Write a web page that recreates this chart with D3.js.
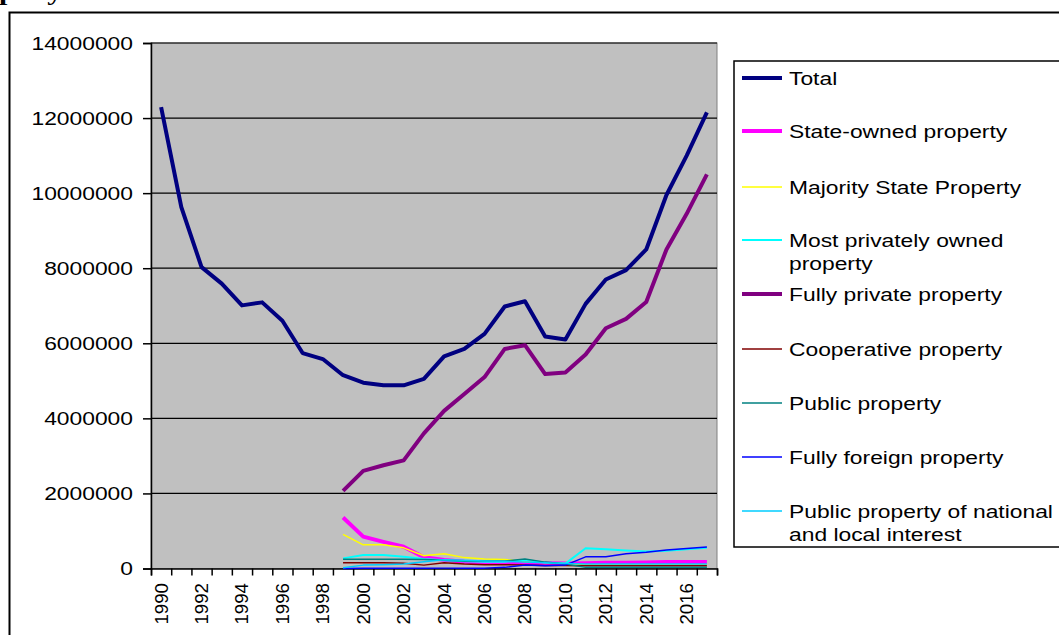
<!DOCTYPE html>
<html>
<head>
<meta charset="utf-8">
<script src="https://cdn.jsdelivr.net/npm/d3@7"></script>
<style>
  body { margin: 0; background: #fff; }
  svg { display: block; font-family: Arial, "Liberation Sans", sans-serif; }
</style>
</head>
<body>
<div id="chart"></div>
<script>
const years = [1990, 1991, 1992, 1993, 1994, 1995, 1996, 1997, 1998, 1999,
  2000, 2001, 2002, 2003, 2004, 2005, 2006, 2007, 2008, 2009,
  2010, 2011, 2012, 2013, 2014, 2015, 2016, 2017];

const yTicks = [0, 2000000, 4000000, 6000000, 8000000, 10000000, 12000000, 14000000];
const xLabels = [1990, 1992, 1994, 1996, 1998, 2000, 2002, 2004, 2006, 2008, 2010, 2012, 2014, 2016];

const total = [12290000, 9630000, 8030000, 7590000, 7010000, 7090000, 6600000, 5740000, 5580000, 5150000,
  4950000, 4880000, 4880000, 5050000, 5650000, 5850000, 6250000, 6980000, 7120000, 6180000,
  6100000, 7050000, 7700000, 7950000, 8500000, 9950000, 11000000, 12150000];

// the other series only start in 1999
const pad = [null, null, null, null, null, null, null, null, null];
const stateOwned = pad.concat([1360000, 850000, 710000, 580000, 300000, 230000, 180000, 150000, 150000, 150000,
  140000, 130000, 140000, 150000, 150000, 160000, 170000, 170000, 170000]);
const majorityState = pad.concat([910000, 630000, 630000, 550000, 340000, 390000, 290000, 250000, 240000, 180000,
  160000, 130000, 100000, 100000, 100000, 100000, 100000, 100000, 100000]);
const mostPrivate = pad.concat([270000, 360000, 360000, 310000, 250000, 220000, 190000, 180000, 180000, 230000,
  160000, 130000, 540000, 510000, 480000, 450000, 470000, 510000, 550000]);
const fullyPrivate = pad.concat([2070000, 2600000, 2750000, 2880000, 3600000, 4200000, 4650000, 5100000, 5850000, 5950000,
  5180000, 5220000, 5700000, 6400000, 6650000, 7100000, 8500000, 9450000, 10500000]);
const cooperative = pad.concat([155000, 150000, 150000, 140000, 90000, 155000, 120000, 100000, 100000, 90000,
  80000, 80000, 70000, 70000, 70000, 70000, 70000, 70000, 70000]);
const publicProp = pad.concat([245000, 245000, 245000, 245000, 240000, 220000, 200000, 200000, 200000, 250000,
  170000, 120000, 30000, 30000, 30000, 30000, 30000, 30000, 30000]);
const fullyForeign = pad.concat([0, 5000, 5000, 5000, 5000, 10000, 10000, 10000, 30000, 90000,
  70000, 90000, 310000, 310000, 390000, 430000, 490000, 530000, 570000]);
const publicNational = pad.concat([20000, 90000, 100000, 120000, 180000, 230000, 220000, 200000, 190000, 170000,
  150000, 130000, 120000, 120000, 120000, 120000, 120000, 120000, 120000]);

const seriesNames = [
  ["Total"],
  ["State-owned property"],
  ["Majority State Property"],
  ["Most privately owned", "property"],
  ["Fully private property"],
  ["Cooperative property"],
  ["Public property"],
  ["Fully foreign property"],
  ["Public property of national", "and local interest"]
];
const seriesValues = [total, stateOwned, majorityState, mostPrivate, fullyPrivate,
  cooperative, publicProp, fullyForeign, publicNational];
const seriesColors = ["#000080", "#FF00FF", "#FFFF00", "#00FFFF", "#800080",
  "#800000", "#008080", "#0000FF", "#00CCFF"];
const seriesWidths = [4, 4, 1.5, 2, 4, 1.5, 1.5, 1.5, 1.5];

const width = 1059;
const height = 635;
const stretch = 1.235;  // text in the picture is widened

const svg = d3.select("#chart").append("svg")
  .attr("width", width)
  .attr("height", height);

// cut-off text above the chart
svg.append("text")
  .attr("transform", "translate(-1,0) scale(1.25,1)")
  .style("font-family", "'Liberation Serif', 'Times New Roman', serif")
  .style("font-weight", "bold")
  .style("font-size", "24px")
  .text("pany");

// chart frame
svg.append("rect")
  .attr("x", 9.5).attr("y", 12.5)
  .attr("width", 1100).attr("height", 700)
  .attr("fill", "#fff")
  .attr("stroke", "#000")
  .attr("stroke-width", 2);

const plotLeft = 151, plotRight = 717, plotTop = 43, plotBottom = 568.5;

const x = d3.scaleBand().domain(years).range([plotLeft, plotRight]);
const xEdge = d3.scaleLinear().domain([0, years.length]).range([plotLeft, plotRight]);
const y = d3.scaleLinear().domain([0, 14000000]).range([plotBottom, plotTop]);

svg.append("rect")
  .attr("x", plotLeft).attr("y", plotTop)
  .attr("width", plotRight - plotLeft).attr("height", plotBottom - plotTop)
  .attr("fill", "#C0C0C0")
  .attr("stroke", "#808080");

svg.append("g")
  .selectAll("line")
  .data(yTicks.filter(d => d > 0))
  .join("line")
  .attr("x1", plotLeft).attr("x2", plotRight)
  .attr("y1", d => y(d)).attr("y2", d => y(d))
  .attr("stroke", "#000")
  .attr("stroke-width", 1.2);

// y axis
const yAxis = svg.append("g")
  .attr("transform", `translate(${plotLeft},0)`)
  .call(d3.axisLeft(y).tickValues(yTicks).tickSize(8).tickFormat(""));
yAxis.select(".domain").attr("stroke", "#000").attr("stroke-width", 1.5);
yAxis.selectAll(".tick line").attr("stroke", "#000").attr("stroke-width", 1.5);

svg.append("g")
  .selectAll("text")
  .data(yTicks)
  .join("text")
  .attr("transform", d => `translate(133,${y(d) + 6.5}) scale(${stretch},1)`)
  .attr("text-anchor", "end")
  .style("font-size", "18.5px")
  .text(d => d3.format("d")(d));

// x axis, ticks between categories
const xAxis = svg.append("g")
  .attr("transform", `translate(0,${plotBottom})`)
  .call(d3.axisBottom(xEdge).tickValues(d3.range(years.length + 1)).tickSize(7).tickFormat(""));
xAxis.select(".domain").attr("stroke", "#000").attr("stroke-width", 1.5);
xAxis.selectAll(".tick line").attr("stroke", "#000").attr("stroke-width", 1.5);

svg.append("g")
  .selectAll("text")
  .data(xLabels)
  .join("text")
  .attr("transform", d => `translate(${x(d) + x.bandwidth() / 2 + 6.5},583) rotate(-90)`)
  .attr("text-anchor", "end")
  .style("font-size", "18.7px")
  .text(d => d);

// series lines
const line = d3.line()
  .defined(d => d.v !== null)
  .x(d => x(d.year) + x.bandwidth() / 2)
  .y(d => y(d.v));

svg.append("g")
  .selectAll("path")
  .data(seriesValues)
  .join("path")
  .attr("fill", "none")
  .attr("stroke", (d, i) => seriesColors[i])
  .attr("stroke-width", (d, i) => seriesWidths[i])
  .attr("stroke-linejoin", "round")
  .attr("d", vals => line(vals.map((v, j) => ({ year: years[j], v: v }))));

// legend
svg.append("rect")
  .attr("x", 734).attr("y", 61)
  .attr("width", 400).attr("height", 486)
  .attr("fill", "#fff")
  .attr("stroke", "#000")
  .attr("stroke-width", 1.5);

const legendY = [78, 131, 187, 240, 294, 349, 403, 457, 511];

const item = svg.append("g")
  .selectAll("g")
  .data(seriesNames)
  .join("g")
  .attr("transform", (d, i) => `translate(0,${legendY[i]})`);

item.append("line")
  .attr("x1", 742).attr("x2", 782)
  .attr("stroke", (d, i) => seriesColors[i])
  .attr("stroke-width", (d, i) => seriesWidths[i]);

item.each(function(lines) {
  d3.select(this).selectAll("text")
    .data(lines)
    .join("text")
    .attr("transform", (t, k) => `translate(789,${6.5 + k * 23.5}) scale(${stretch},1)`)
    .style("font-size", "18.5px")
    .text(t => t);
});
</script>
</body>
</html>
